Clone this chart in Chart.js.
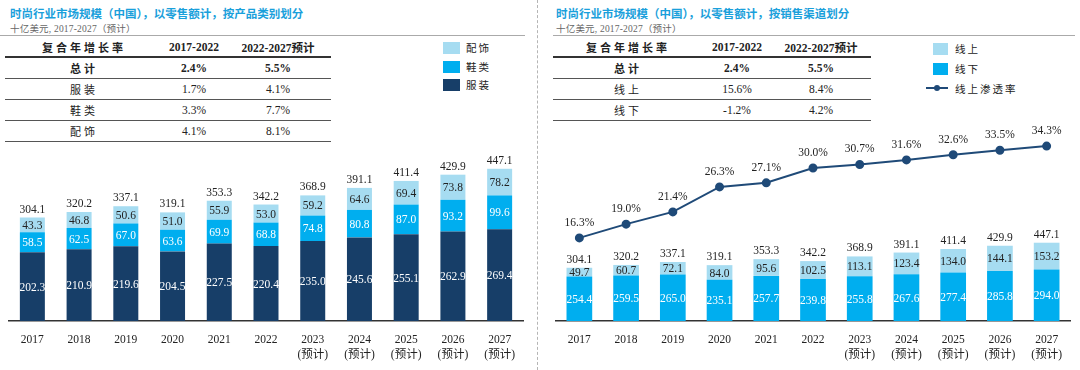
<!DOCTYPE html>
<html>
<head>
<meta charset="utf-8">
<script src="https://cdn.jsdelivr.net/npm/chart.js@4.4.1/dist/chart.umd.min.js"></script>
<style>
  body { margin: 0; width: 1080px; height: 370px; background: #fff; position: relative; overflow: hidden;
         font-family: "Liberation Serif", "Noto Sans CJK SC", serif; color: #222; }
  .abs { position: absolute; }
  .title { font-family: "Noto Sans CJK SC", sans-serif; font-weight: bold; font-size: 11.5px; color: #1aa0db; top: 5px; white-space: nowrap; }
  .sub { font-size: 9.5px; color: #666; top: 21px; white-space: nowrap; letter-spacing: 0.2px; }
  .rule { height: 1px; background: #aaa; top: 35px; }
  .sep { left: 537px; top: 0; height: 370px; border-left: 1px dashed #b5b5b5; }
  table.cagr { position: absolute; border-collapse: collapse; font-size: 11.5px; top: 38px; }
  table.cagr td { text-align: center; padding: 0; height: 20px; border-bottom: 1.5px solid #555; }
  table.cagr tr.head td { font-weight: bold; border-bottom: 2px solid #333; height: 18px; }
  table.cagr tr.bold td { font-weight: bold; }
  .zh { letter-spacing: 3px; font-size: 11px; }
  .leg { font-size: 10.5px; letter-spacing: 2px; white-space: nowrap; }
  .sw { width: 17px; height: 12px; }
  canvas { position: absolute; }
</style>
</head>
<body>
<div class="abs sep"></div>

<!-- left panel -->
<div class="abs title" style="left:10px">时尚行业市场规模（中国），以零售额计，按产品类别划分</div>
<div class="abs sub" style="left:10px">十亿美元, 2017-2027（预计）</div>
<div class="abs rule" style="left:0; width:525px"></div>
<table class="cagr" style="left:5px; width:326px">
  <colgroup><col style="width:158px"><col style="width:62px"><col style="width:106px"></colgroup>
  <tr class="head"><td class="zh">复合年增长率</td><td>2017-2022</td><td>2022-2027预计</td></tr>
  <tr class="bold"><td class="zh">总计</td><td>2.4%</td><td>5.5%</td></tr>
  <tr><td class="zh">服装</td><td>1.7%</td><td>4.1%</td></tr>
  <tr><td class="zh">鞋类</td><td>3.3%</td><td>7.7%</td></tr>
  <tr><td class="zh">配饰</td><td>4.1%</td><td>8.1%</td></tr>
</table>
<div class="abs sw" style="left:443px; top:42px; background:#a6dcf1"></div>
<div class="abs leg" style="left:466px; top:40px">配饰</div>
<div class="abs sw" style="left:443px; top:61px; background:#00aeef"></div>
<div class="abs leg" style="left:466px; top:59px">鞋类</div>
<div class="abs sw" style="left:443px; top:79px; background:#173e68"></div>
<div class="abs leg" style="left:466px; top:77px">服装</div>

<!-- right panel -->
<div class="abs title" style="left:556px">时尚行业市场规模（中国），以零售额计，按销售渠道划分</div>
<div class="abs sub" style="left:556px">十亿美元, 2017-2027（预计）</div>
<div class="abs rule" style="left:553px; width:522px"></div>
<table class="cagr" style="left:553px; width:318px">
  <colgroup><col style="width:150px"><col style="width:68px"><col style="width:100px"></colgroup>
  <tr class="head"><td class="zh">复合年增长率</td><td>2017-2022</td><td>2022-2027预计</td></tr>
  <tr class="bold"><td class="zh">总计</td><td>2.4%</td><td>5.5%</td></tr>
  <tr><td class="zh">线上</td><td>15.6%</td><td>8.4%</td></tr>
  <tr><td class="zh">线下</td><td>-1.2%</td><td>4.2%</td></tr>
</table>
<div class="abs sw" style="left:933px; top:43px; width:15px; background:#a6dcf1"></div>
<div class="abs leg" style="left:955px; top:41px">线上</div>
<div class="abs sw" style="left:933px; top:63px; width:15px; background:#00aeef"></div>
<div class="abs leg" style="left:955px; top:61px">线下</div>
<div class="abs" style="left:926px; top:87px; width:22px; height:2px; background:#1f4a78"></div>
<div class="abs" style="left:934px; top:85px; width:6px; height:6px; border-radius:50%; background:#1f4a78"></div>
<div class="abs leg" style="left:955px; top:81px">线上渗透率</div>

<canvas id="leftChart" style="left:0; top:130px" width="537" height="240"></canvas>
<canvas id="rightChart" style="left:540px; top:110px" width="540" height="260"></canvas>

<script>
// categories
const years = ['2017', '2018', '2019', '2020', '2021', '2022', '2023', '2024', '2025', '2026', '2027'];
const forecastNote = '(预计)';
const firstForecast = 6;

// left: by product category (billion USD)
const apparel = [202.3, 210.9, 219.6, 204.5, 227.5, 220.4, 235.0, 245.6, 255.1, 262.9, 269.4];
const footwear = [58.5, 62.5, 67.0, 63.6, 69.9, 68.8, 74.8, 80.8, 87.0, 93.2, 99.6];
const accessories = [43.3, 46.8, 50.6, 51.0, 55.9, 53.0, 59.2, 64.6, 69.4, 73.8, 78.2];
const totals = [304.1, 320.2, 337.1, 319.1, 353.3, 342.2, 368.9, 391.1, 411.4, 429.9, 447.1];

// right: by sales channel (billion USD) and online penetration (%)
const offline = [254.4, 259.5, 265.0, 235.1, 257.7, 239.8, 255.8, 267.6, 277.4, 285.8, 294.0];
const online = [49.7, 60.7, 72.1, 84.0, 95.6, 102.5, 113.1, 123.4, 134.0, 144.1, 153.2];
const penetration = [16.3, 19.0, 21.4, 26.3, 27.1, 30.0, 30.7, 31.6, 32.6, 33.5, 34.3];

const xLabels = years.map((y, i) => i >= firstForecast ? [y, forecastNote] : y);
const labelFont = '11.5px "Liberation Serif", "Noto Sans CJK SC", serif';

// draws the numbers inside / above the bars and above the line points
const valueLabels = {
    id: 'valueLabels',
    afterDatasetsDraw(chart) {
        const ctx = chart.ctx;
        ctx.save();
        ctx.font = labelFont;
        ctx.textAlign = 'center';
        ctx.textBaseline = 'middle';
        chart.data.datasets.forEach((ds, di) => {
            const meta = chart.getDatasetMeta(di);
            meta.data.forEach((el, i) => {
                if (ds.type === 'line') {
                    ctx.fillStyle = '#222';
                    ctx.fillText(ds.data[i].toFixed(1) + '%', el.x, el.y - 15);
                    return;
                }
                ctx.fillStyle = ds.labelColor;
                ctx.fillText(ds.data[i].toFixed(1), el.x, (el.y + el.base) / 2 + 1);
                if (ds.totals) {
                    ctx.fillStyle = '#222';
                    ctx.fillText(ds.totals[i].toFixed(1), el.x, el.y - 8);
                }
            });
        });
        ctx.restore();
    }
};

function xScale() {
    return {
        stacked: true,
        grid: { display: false },
        border: { display: true, color: '#333', width: 1.5 },
        ticks: { color: '#222', font: { family: '"Liberation Serif", "Noto Sans CJK SC", serif', size: 11.5, lineHeight: 1.3 }, padding: 4, maxRotation: 0, autoSkip: false },
        afterFit(scale) { scale.height = 49; }
    };
}

new Chart(document.getElementById('leftChart'), {
    type: 'bar',
    data: {
        labels: xLabels,
        datasets: [
            { label: '服装', data: apparel, backgroundColor: '#173e68', labelColor: '#fff' },
            { label: '鞋类', data: footwear, backgroundColor: '#00aeef', labelColor: '#fff' },
            { label: '配饰', data: accessories, backgroundColor: '#a6dcf1', labelColor: '#222', totals: totals }
        ]
    },
    options: {
        responsive: false,
        animation: false,
        events: [],
        layout: { padding: { left: 9, right: 14, top: 30, bottom: 0 } },
        datasets: { bar: { barPercentage: 0.535, categoryPercentage: 1 } },
        scales: {
            x: xScale(),
            y: { stacked: true, display: false, min: 0, max: 473 }
        },
        plugins: { legend: { display: false }, tooltip: { enabled: false } }
    },
    plugins: [valueLabels]
});

new Chart(document.getElementById('rightChart'), {
    type: 'bar',
    data: {
        labels: xLabels,
        datasets: [
            { type: 'line', label: '线上渗透率', data: penetration, yAxisID: 'y1', order: 0,
              borderColor: '#1f4a78', backgroundColor: '#1f4a78', borderWidth: 2,
              pointRadius: 3.5, pointBackgroundColor: '#1f4a78', tension: 0 },
            { label: '线下', data: offline, backgroundColor: '#00aeef', labelColor: '#fff', order: 1 },
            { label: '线上', data: online, backgroundColor: '#a6dcf1', labelColor: '#222', totals: totals, order: 1 }
        ]
    },
    options: {
        responsive: false,
        animation: false,
        events: [],
        layout: { padding: { left: 16, right: 10, top: 30, bottom: 0 } },
        datasets: { bar: { barPercentage: 0.55, categoryPercentage: 1 } },
        scales: {
            x: xScale(),
            y: { stacked: true, display: false, min: 0, max: 1034 },
            y1: { display: false, min: 0, max: 35.5 }
        },
        plugins: { legend: { display: false }, tooltip: { enabled: false } }
    },
    plugins: [valueLabels]
});
</script>
</body>
</html>
